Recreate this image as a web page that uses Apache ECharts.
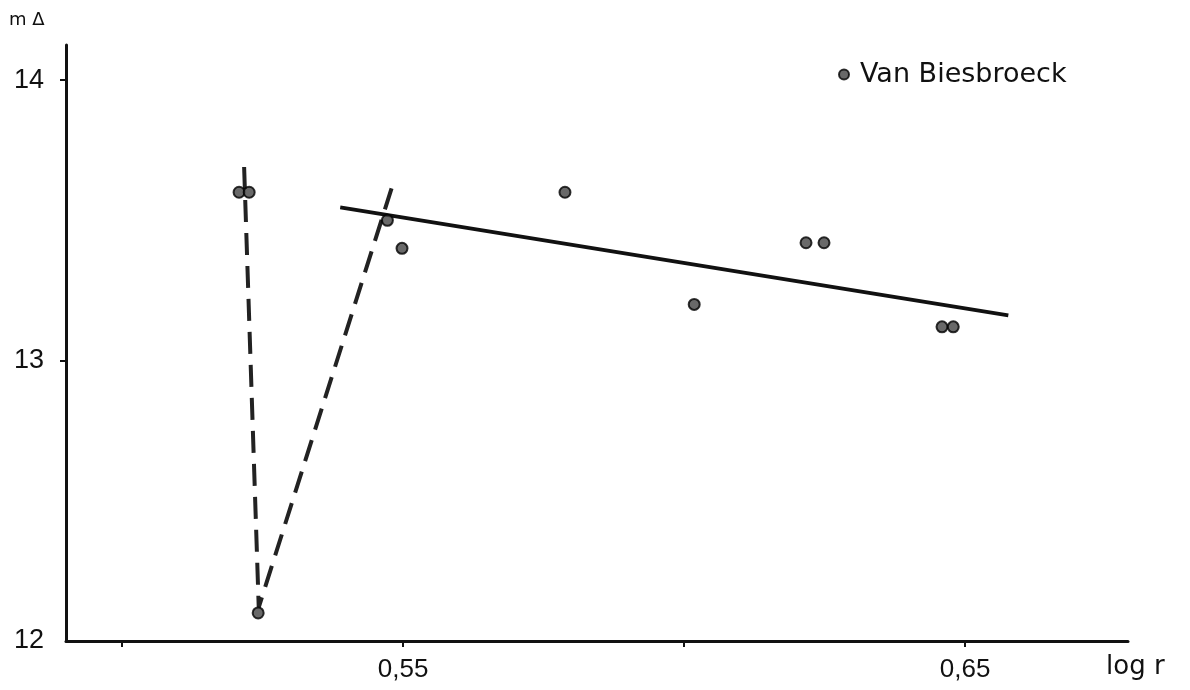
<!DOCTYPE html>
<html>
<head>
<meta charset="utf-8">
<script src="https://cdn.jsdelivr.net/npm/echarts@6/dist/echarts.min.js"></script>
<style>html,body{margin:0;padding:0;background:#fff}#c{width:1190px;height:690px}</style>
</head>
<body>
<div id="c"></div>
<script>
// Observed points (Van Biesbroeck)
const logR   = [0.5208, 0.5226, 0.5242, 0.5472, 0.5498, 0.5788, 0.6018, 0.6217, 0.6249, 0.6459, 0.6479];
const mDelta = [13.60, 13.60, 12.10, 13.50, 13.40, 13.60, 13.20, 13.42, 13.42, 13.12, 13.12];
// Solid fitted line
const fitX = [0.5388, 0.6577];
const fitY = [13.546, 13.161];
// Dashed V-shaped line
const vX = [0.5217, 0.5243, 0.5482];
const vY = [13.69, 12.12, 13.63];
// Tick values
const xTicks = [0.50, 0.55, 0.60, 0.65];
const xLabels = [0.55, 0.65];
const yTicks = [13, 14];
const yLabels = [12, 13, 14];
const seriesName = 'Van Biesbroeck';

const FONT = 'Liberation Sans';
const FONT2 = 'DejaVu Sans';
const chart = echarts.init(document.getElementById('c'));
chart.setOption({
  backgroundColor: '#ffffff',
  animation: false,
  grid: { left: 66, right: 62, top: 45, bottom: 49, containLabel: false },
  legend: {
    data: [seriesName],
    left: 833, top: 56,
    icon: 'circle', itemWidth: 10, itemHeight: 10,
    textStyle: { fontFamily: FONT2, fontSize: 27, color: '#111', padding: [0, 0, 0, 6] }
  },
  xAxis: {
    type: 'value', min: 0.49, max: 0.679,
    axisLine: { show: true, lineStyle: { color: '#111', width: 3 } },
    axisTick: { show: true, customValues: xTicks, length: 6, inside: false, lineStyle: { color: '#111', width: 2 } },
    axisLabel: { customValues: xLabels, margin: 16, fontFamily: FONT, fontSize: 26, color: '#111',
      formatter: v => v.toFixed(2).replace('.', ',') },
    splitLine: { show: false }
  },
  yAxis: {
    type: 'value', min: 12, max: 14.125,
    axisLine: { show: true, lineStyle: { color: '#111', width: 3 } },
    axisTick: { show: true, customValues: yTicks, length: 6, lineStyle: { color: '#111', width: 2 } },
    axisLabel: { customValues: yLabels, margin: 22, fontFamily: FONT, fontSize: 27, color: '#111' },
    splitLine: { show: false }
  },
  graphic: [
    { type: 'text', left: 9, top: 11, style: { text: 'm \u0394', fontFamily: FONT2, fontSize: 18, fill: '#111' } },
    { type: 'text', left: 1106, top: 654, style: { text: 'log r', fontFamily: FONT2, fontSize: 26, fill: '#111' } }
  ],
  series: [
    {
      type: 'line', data: fitX.map((x, i) => [x, fitY[i]]), symbol: 'none', silent: true,
      lineStyle: { color: '#111', width: 4 }, z: 2
    },
    {
      type: 'line', data: vX.map((x, i) => [x, vY[i]]), symbol: 'none', silent: true,
      lineStyle: { color: '#222', width: 4, type: [22, 11] }, z: 2
    },
    {
      name: seriesName, type: 'scatter', data: logR.map((x, i) => [x, mDelta[i]]),
      symbol: 'circle', symbolSize: 11,
      itemStyle: { color: '#444', borderColor: '#000', borderWidth: 2 }, z: 3
    }
  ]
});
</script>
</body>
</html>
